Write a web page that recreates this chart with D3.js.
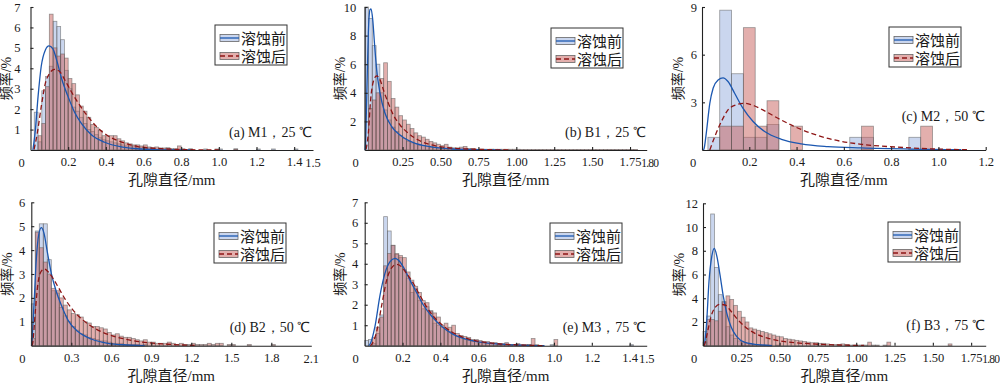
<!DOCTYPE html>
<html>
<head>
<meta charset="utf-8">
<script src="https://cdn.jsdelivr.net/npm/d3@7"></script>
<style>
  body { margin: 0; background: #fff; }
  text { fill: #1a1a1a; }
  .tick text, .num { font-family: "Liberation Serif", "Times New Roman", serif; font-size: 12.5px; }
  .note { font-family: "Liberation Serif", "Times New Roman", serif; font-size: 14px; }
  .cjk { font-family: "Liberation Serif", "Noto Sans CJK SC", serif; font-size: 15px; }
  .ylab { font-family: "Liberation Serif", "Noto Sans CJK SC", serif; font-size: 14px; }
</style>
</head>
<body>
<script>
// ---- data (frequency %, pore diameter mm) ----
const binWidthA = 0.02;
const beforeA = [0, 1.85, 0.4, 2.9, 3.6, 4.1, 6.3, 6.05, 5.4, 3.9, 3.0, 2.1, 1.9, 1.6, 1.3, 1.0, 0.9, 0.75, 0.6, 0.5,
  0.45, 0.4, 0.35, 0.3, 0.25, 0.2, 0.2, 0.2, 0.15, 0.15, 0.1, 0.1, 0.1, 0.05, 0.05, 0.05, 0.1, 0.05, 0.05, 0,
  0.05, 0, 0.05, 0, 0, 0, 0.05, 0, 0, 0, 0.05, 0, 0, 0, 0.05, 0, 0, 0, 0, 0, 0.05, 0, 0, 0, 0.05, 0, 0, 0, 0, 0, 0.05];
const afterA = [0, 0, 0.7, 1.3, 3.1, 6.65, 5.0, 4.6, 4.7, 4.5, 3.5, 3.25, 2.7, 2.15, 1.9, 1.6, 1.25, 1.1, 0.95, 0.7,
  0.7, 0.7, 0.7, 0.55, 0.45, 0.35, 0.3, 0.25, 0.25, 0.2, 0.25, 0.15, 0.1, 0.15, 0.1, 0.1, 0.1, 0.05, 0.05, 0.2,
  0.05, 0, 0.05, 0, 0, 0, 0, 0, 0, 0.05, 0, 0, 0, 0, 0.05];
const fitBeforeA = [[0.013, 0], [0.026, 1.0], [0.04, 2.6], [0.057, 4.1], [0.079, 4.9], [0.098, 5.1], [0.119, 4.95],
  [0.142, 4.3], [0.165, 3.5], [0.2, 2.6], [0.234, 1.85], [0.27, 1.3], [0.323, 0.75], [0.394, 0.38], [0.482, 0.15],
  [0.588, 0.05], [0.7, 0.01], [0.85, 0]];
const fitAfterA = [[0.019, 0.03], [0.036, 0.82], [0.057, 2.12], [0.079, 3.27], [0.102, 3.76], [0.128, 3.95],
  [0.155, 3.84], [0.181, 3.45], [0.217, 2.85], [0.25, 2.35], [0.3, 1.7], [0.35, 1.15], [0.41, 0.7], [0.48, 0.4],
  [0.57, 0.17], [0.694, 0.065], [0.836, 0.016], [1.0, 0]];

const binWidthB = 0.025;
const beforeB = [10.0, 9.2, 7.3, 6.0, 4.0, 2.8, 2.1, 1.6, 1.3, 1.0, 0.8, 0.6, 0.5, 0.45, 0.35, 0.3, 0.25, 0.2, 0.2, 0.15,
  0.1, 0.1, 0.1, 0.05, 0.05, 0.05, 0.05, 0, 0.05, 0, 0.05, 0, 0, 0.05];
const afterB = [0, 2.9, 3.5, 4.0, 5.0, 6.1, 4.8, 3.6, 3.0, 2.4, 2.1, 1.8, 1.5, 1.2, 1.0, 0.9, 0.75, 0.6, 0.5, 0.4,
  0.3, 0.4, 0.2, 0.15, 0.15, 0.2, 0.25, 0.1, 0.1, 0.05, 0.05, 0.05, 0.05, 0.05, 0.05, 0.05, 0.05, 0.05, 0.05, 0.05,
  0.05, 0.04, 0.04, 0.04, 0.04, 0.04, 0.04, 0.04, 0.04, 0.04, 0.04, 0.04, 0.04, 0.04, 0.04, 0.04, 0.04, 0.04, 0.04,
  0.04, 0.04, 0.04, 0.04, 0.04, 0.04, 0.04, 0.04, 0.04, 0.04, 0.04, 0.04, 0.04];
const fitBeforeB = [[0.002, 0], [0.004, 0.12], [0.013, 3.5], [0.024, 8.18], [0.035, 9.81], [0.042, 9.86], [0.053, 9.11],
  [0.066, 7.24], [0.079, 5.61], [0.101, 3.97], [0.134, 2.57], [0.178, 1.64], [0.233, 1.05], [0.321, 0.51],
  [0.431, 0.23], [0.585, 0.07], [0.739, 0.02], [0.9, 0]];
const fitAfterB = [[0.009, 0.05], [0.024, 1.17], [0.039, 3.5], [0.057, 4.79], [0.079, 5.19], [0.101, 4.91],
  [0.127, 4.09], [0.156, 3.27], [0.189, 2.45], [0.233, 1.75], [0.288, 1.17], [0.354, 0.7], [0.442, 0.35],
  [0.563, 0.14], [0.739, 0.05], [0.95, 0]];

const binWidthC = 0.05;
const binStartC = 0.025;
const beforeC = [0.8, 8.8, 4.8, 0.8, 0.8, 1.6, 0, 0, 0, 0, 0, 0, 0.8, 0.8, 0, 0, 0, 0.8, 0, 0, 0, 0];
const afterC = [0, 1.5, 1.5, 7.7, 1.5, 3.1, 0, 1.5, 0, 0, 0, 0, 0, 1.5, 0, 0, 0, 0, 1.5, 0, 0, 0];
const fitBeforeC = [[0.006, 0], [0.009, 0.1], [0.018, 1.05], [0.033, 2.94], [0.047, 3.89], [0.068, 4.41], [0.089, 4.54],
  [0.11, 4.31], [0.138, 3.57], [0.173, 2.63], [0.216, 1.79], [0.265, 1.16], [0.336, 0.67], [0.42, 0.38],
  [0.533, 0.21], [0.674, 0.13], [0.885, 0.06], [1.097, 0.02]];
const fitAfterC = [[0.033, 0], [0.054, 0.84], [0.082, 1.79], [0.11, 2.52], [0.145, 2.84], [0.181, 2.94], [0.223, 2.77],
  [0.265, 2.46], [0.321, 2.0], [0.392, 1.47], [0.462, 1.05], [0.561, 0.63], [0.674, 0.36], [0.815, 0.19],
  [0.956, 0.08], [1.125, 0.02]];

const binWidthD = 0.03;
const beforeD = [1.75, 4.8, 5.1, 5.1, 3.6, 2.3, 2.2, 1.6, 1.25, 1.0, 0.8, 0.65, 0.5, 0.45, 0.35, 0.3, 0.25, 0.2, 0.2, 0.15,
  0.1, 0.1, 0.1, 0.05, 0.05, 0.05, 0.05, 0, 0.05];
const afterD = [0.3, 4.75, 4.1, 3.5, 3.0, 2.4, 2.3, 2.0, 1.7, 1.5, 1.35, 1.3, 1.2, 1.0, 0.95, 0.8, 0.8, 0.75, 0.7, 0.55,
  0.45, 0.5, 0.4, 0.35, 0.35, 0.3, 0.25, 0.2, 0.25, 0.15, 0.15, 0.1, 0.1, 0.1, 0.15, 0.1, 0.05, 0.1, 0.05, 0.05,
  0.1, 0.05, 0.05, 0.05, 0.1, 0.05, 0.1, 0.1, 0, 0.05, 0.05, 0, 0, 0, 0.05, 0, 0, 0, 0, 0, 0.05];
const fitBeforeD = [[0.002, 0], [0.005, 0.17], [0.02, 1.7], [0.038, 3.65], [0.055, 4.63], [0.075, 4.94], [0.095, 4.71],
  [0.12, 3.93], [0.15, 3.03], [0.188, 2.26], [0.225, 1.7], [0.275, 1.07], [0.35, 0.59], [0.45, 0.28], [0.575, 0.1],
  [0.725, 0.03], [0.85, 0]];
const fitAfterD = [[0.004, 0], [0.01, 0.1], [0.03, 1.42], [0.05, 2.61], [0.075, 3.12], [0.1, 3.21], [0.13, 3.07],
  [0.163, 2.82], [0.2, 2.47], [0.25, 1.98], [0.313, 1.49], [0.388, 1.07], [0.475, 0.73], [0.575, 0.47], [0.7, 0.28],
  [0.85, 0.14], [1.025, 0.06], [1.225, 0.01]];

const binWidthE = 0.02;
const beforeE = [0.25, 0.3, 0.1, 0.6, 1.5, 6.3, 5.6, 4.9, 4.45, 4.3, 3.7, 3.3, 2.6, 2.8, 2.2, 1.8, 1.9, 1.7, 1.1, 1.0,
  0.9, 0.8, 0.7, 0.6, 0.45, 0.4, 0.3, 0.25, 0.2, 0.2, 0.15, 0.15, 0.1, 0.1, 0.1, 0.05, 0.05, 0.05, 0.05, 0,
  0.05, 0, 0, 0.05, 0, 0, 0, 0, 0, 0.05, 0, 0, 0, 0, 0, 0, 0, 0, 0, 0, 0, 0, 0, 0, 0, 0, 0, 0, 0, 0, 0.05];
const afterE = [0, 0, 0.4, 0.9, 1.4, 3.9, 4.5, 4.9, 4.5, 4.4, 4.3, 3.6, 3.2, 2.9, 2.6, 2.2, 2.1, 1.7, 1.6, 1.4,
  1.0, 1.1, 0.9, 1.0, 0.6, 0.5, 0.45, 0.4, 0.3, 0.3, 0.25, 0.2, 0.2, 0.15, 0.15, 0.1, 0.1, 0.15, 0.05, 0.05,
  0.1, 0.05, 0.05, 0.05, 0.35, 0.05, 0, 0, 0, 0, 0.3];
const fitBeforeE = [[0.02, 0], [0.028, 0.07], [0.054, 0.93], [0.081, 2.47], [0.107, 3.53], [0.134, 4.1], [0.16, 4.26],
  [0.186, 4.1], [0.213, 3.69], [0.239, 3.2], [0.274, 2.6], [0.309, 2.0], [0.353, 1.45], [0.406, 0.95], [0.468, 0.55],
  [0.556, 0.27], [0.679, 0.1], [0.82, 0.03], [0.95, 0]];
const fitAfterE = [[0.03, 0], [0.037, 0.07], [0.063, 0.68], [0.09, 1.98], [0.116, 3.2], [0.142, 3.8], [0.169, 3.97],
  [0.195, 3.85], [0.221, 3.53], [0.257, 3.05], [0.292, 2.45], [0.327, 1.9], [0.371, 1.35], [0.424, 0.9],
  [0.485, 0.55], [0.573, 0.27], [0.696, 0.1], [0.837, 0.03], [0.95, 0]];

const binWidthF = 0.025;
const beforeF = [1.2, 2.5, 11.1, 6.6, 4.3, 3.7, 1.6, 0.9, 0.6, 0.4, 0.3, 0.2, 0.15, 0.1, 0.1, 0.05, 0.05, 0.05, 0, 0.05];
const afterF = [0.3, 2.2, 2.2, 2.1, 2.9, 3.7, 4.2, 3.9, 3.4, 2.9, 2.4, 2.0, 1.5, 1.4, 1.3, 1.2, 1.1, 1.0, 0.9, 0.8,
  0.75, 0.6, 0.55, 0.5, 0.45, 0.4, 0.35, 0.3, 0.25, 0.25, 0.2, 0.2, 0.15, 0.1, 0.1, 0.1, 0.15, 0.1, 0.05, 0.05,
  0.05, 0.05, 0.05, 0.3, 0.05, 0.05, 0, 0.05, 0.3, 0, 0, 0, 0, 0, 0, 0, 0, 0, 0, 0, 0, 0, 0, 0, 0.15];
const fitBeforeF = [[0.005, 0], [0.009, 0.11], [0.024, 2.02], [0.039, 5.39], [0.057, 7.5], [0.074, 8.2], [0.091, 7.5],
  [0.111, 5.96], [0.133, 4.13], [0.155, 2.75], [0.183, 1.6], [0.22, 0.76], [0.274, 0.28], [0.383, 0.06], [0.45, 0.01]];
const fitAfterF = [[0.008, 0], [0.013, 0.2], [0.03, 1.18], [0.052, 2.44], [0.078, 3.2], [0.111, 3.48], [0.144, 3.43],
  [0.176, 3.01], [0.22, 2.3], [0.274, 1.6], [0.339, 1.04], [0.426, 0.62], [0.535, 0.34], [0.688, 0.17],
  [0.883, 0.06], [1.05, 0.02]];

const legendLabels = ['溶蚀前', '溶蚀后'];
const xTitle = '孔隙直径/mm';
const yTitle = '频率/%';

// ---- panel layout ----
const panels = [
  { left: 30.5, right: 313, top: 7, bottom: 150, xMax: 1.5, yMax: 7, xTicks: [0.2, 0.4, 0.6, 0.8, 1.0, 1.2, 1.4], fmt: '.1f',
    end: '1.5', squeezeEnd: false, yTicks: [1, 2, 3, 4, 5, 6, 7], ypad: 10,
    binStart: 0, binW: binWidthA, before: beforeA, after: afterA, fitB: fitBeforeA, fitA: fitAfterA,
    legend: [215, 25], note: '(a) M1，25 ℃', noteUp: 13 },
  { left: 364.7, right: 646.7, top: 7, bottom: 150, xMax: 1.86, yMax: 10, xTicks: [0.25, 0.5, 0.75, 1.0, 1.25, 1.5, 1.75], fmt: '.2f',
    end: '1.80', squeezeEnd: true, yTicks: [2, 4, 6, 8, 10], ypad: 8.5,
    binStart: 0, binW: binWidthB, before: beforeB, after: afterB, fitB: fitBeforeB, fitA: fitAfterB,
    legend: [551, 28], note: '(b) B1，25 ℃', noteUp: 13 },
  { left: 702, right: 985.7, top: 7, bottom: 150, xMax: 1.2, yMax: 9, xTicks: [0.2, 0.4, 0.6, 0.8, 1.0, 1.2], fmt: '.1f',
    end: null, squeezeEnd: false, yTicks: [3, 6, 9], ypad: 5,
    binStart: binStartC, binW: binWidthC, before: beforeC, after: afterC, fitB: fitBeforeC, fitA: fitAfterC,
    legend: [889, 27], note: '(c) M2，50 ℃', noteUp: 29 },
  { left: 31.3, right: 311.3, top: 202.3, bottom: 345.7, xMax: 2.1, yMax: 6, xTicks: [0.3, 0.6, 0.9, 1.2, 1.5, 1.8], fmt: '.1f',
    end: '2.1', squeezeEnd: false, yTicks: [1, 2, 3, 4, 5, 6], ypad: 6,
    binStart: 0, binW: binWidthD, before: beforeD, after: afterD, fitB: fitBeforeD, fitA: fitAfterD,
    legend: [214, 223], note: '(d) B2，50 ℃', noteUp: 14 },
  { left: 364.7, right: 646.7, top: 202.3, bottom: 345.7, xMax: 1.49, yMax: 7, xTicks: [0.2, 0.4, 0.6, 0.8, 1.0, 1.2, 1.4], fmt: '.1f',
    end: '1.5', squeezeEnd: false, yTicks: [1, 2, 3, 4, 5, 6, 7], ypad: 6.5,
    binStart: 0, binW: binWidthE, before: beforeE, after: afterE, fitB: fitBeforeE, fitA: fitAfterE,
    legend: [550, 223], note: '(e) M3，75 ℃', noteUp: 14 },
  { left: 703, right: 985.7, top: 203.3, bottom: 345.7, xMax: 1.845, yMax: 12, xTicks: [0.25, 0.5, 0.75, 1.0, 1.25, 1.5, 1.75], fmt: '.2f',
    end: '1.80', squeezeEnd: true, yTicks: [2, 4, 6, 8, 10, 12], ypad: 5,
    binStart: 0, binW: binWidthF, before: beforeF, after: afterF, fitB: fitBeforeF, fitA: fitAfterF,
    legend: [888, 222], note: '(f) B3，75 ℃', noteUp: 16 }
];

const blueFill = 'rgb(150,174,222)';
const redFill = 'rgb(200,96,92)';
const blueLine = '#1b57b0';
const redLine = '#8e1616';

const svg = d3.select('body').append('svg')
  .attr('width', 1000)
  .attr('height', 385);

panels.forEach(p => {
  const x = d3.scaleLinear().domain([0, p.xMax]).range([p.left, p.right]);
  const y = d3.scaleLinear().domain([0, p.yMax]).range([p.bottom, p.top]);
  const g = svg.append('g');

  // histogram bars, "before" first and "after" on top
  [[p.before, blueFill], [p.after, redFill]].forEach(([vals, fill]) => {
    const bins = vals.map((v, i) => ({ x0: p.binStart + i * p.binW, x1: p.binStart + (i + 1) * p.binW, v }))
      .filter(d => d.v > 0 && d.x0 < p.xMax);
    g.append('g').selectAll('rect')
      .data(bins)
      .join('rect')
      .attr('x', d => x(d.x0))
      .attr('width', d => x(Math.min(d.x1, p.xMax)) - x(d.x0))
      .attr('y', d => y(d.v))
      .attr('height', d => y(0) - y(d.v))
      .attr('fill', fill)
      .attr('fill-opacity', 0.5)
      .attr('stroke', '#5a5a5a')
      .attr('stroke-opacity', 0.6)
      .attr('stroke-width', 0.8);
  });

  // fitted curves
  const line = d3.line().x(d => x(d[0])).y(d => y(d[1])).curve(d3.curveMonotoneX);
  g.append('path').datum(p.fitB)
    .attr('d', line).attr('fill', 'none').attr('stroke', blueLine).attr('stroke-width', 1.3);
  g.append('path').datum(p.fitA)
    .attr('d', line).attr('fill', 'none').attr('stroke', redLine).attr('stroke-width', 1.3)
    .attr('stroke-dasharray', '5,3');

  // axes, ticks pointing inward
  const xAxis = g.append('g').attr('transform', `translate(0,${p.bottom})`)
    .call(d3.axisBottom(x).tickValues(p.xTicks).tickSize(-3).tickSizeOuter(0).tickPadding(7).tickFormat(d3.format(p.fmt)));
  const yAxis = g.append('g').attr('transform', `translate(${p.left},0)`)
    .call(d3.axisLeft(y).tickValues(p.yTicks).tickSize(-3).tickSizeOuter(0).tickPadding(p.ypad).tickFormat(d3.format('d')));
  [xAxis, yAxis].forEach(a => {
    a.attr('font-family', null).attr('font-size', null);
    a.select('.domain').attr('stroke', '#222').attr('stroke-width', 1.1);
    a.selectAll('.tick line').attr('stroke', '#222').attr('stroke-width', 1.1);
    a.selectAll('.tick text').attr('fill', '#1a1a1a');
  });

  // end-of-axis label and shared origin label
  if (p.end) {
    const endText = g.append('text').attr('class', 'num').attr('y', p.bottom + 17).text(p.end);
    if (p.squeezeEnd) {
      // crowded against the last tick label, as in the original
      const lastTick = p.xTicks[p.xTicks.length - 1];
      endText.attr('x', x(lastTick) + 11.2).attr('text-anchor', 'start')
        .style('font-size', '11.5px').style('letter-spacing', '-0.8px');
    } else {
      endText.attr('x', p.right).attr('text-anchor', 'middle');
    }
  }
  g.append('text').attr('class', 'num').attr('x', p.left - 9).attr('y', p.bottom + 17)
    .attr('text-anchor', 'middle').text('0');

  // axis titles
  g.append('text').attr('class', 'cjk')
    .attr('x', (p.left + p.right) / 2).attr('y', p.bottom + 35)
    .attr('text-anchor', 'middle').text(xTitle);
  g.append('text').attr('class', 'ylab')
    .attr('transform', `translate(${p.left - 19.5},${(p.top + p.bottom) / 2}) rotate(-90)`)
    .attr('text-anchor', 'middle').text(yTitle);

  // legend
  const [lx, ly] = p.legend;
  const lg = g.append('g').attr('transform', `translate(${lx},${ly})`);
  lg.append('rect').attr('width', 72).attr('height', 40)
    .attr('fill', '#fff').attr('stroke', '#333').attr('stroke-width', 1);
  [[blueFill, blueLine, null], [redFill, redLine, '5,3']].forEach(([fill, stroke, dash], i) => {
    const cy = 13 + i * 18;
    lg.append('rect').attr('x', 5).attr('y', cy - 3.5).attr('width', 19).attr('height', 7)
      .attr('fill', fill).attr('fill-opacity', 0.5).attr('stroke', '#666').attr('stroke-width', 0.8);
    lg.append('line').attr('x1', 5).attr('x2', 24).attr('y1', cy).attr('y2', cy)
      .attr('stroke', stroke).attr('stroke-width', 1.3).attr('stroke-dasharray', dash);
    lg.append('text').attr('class', 'cjk').attr('x', 26).attr('y', cy + 5.5).text(legendLabels[i]);
  });

  // panel note
  g.append('text').attr('class', 'note')
    .attr('x', p.right - 1).attr('y', p.bottom - p.noteUp)
    .attr('text-anchor', 'end').text(p.note);
});
</script>
</body>
</html>
